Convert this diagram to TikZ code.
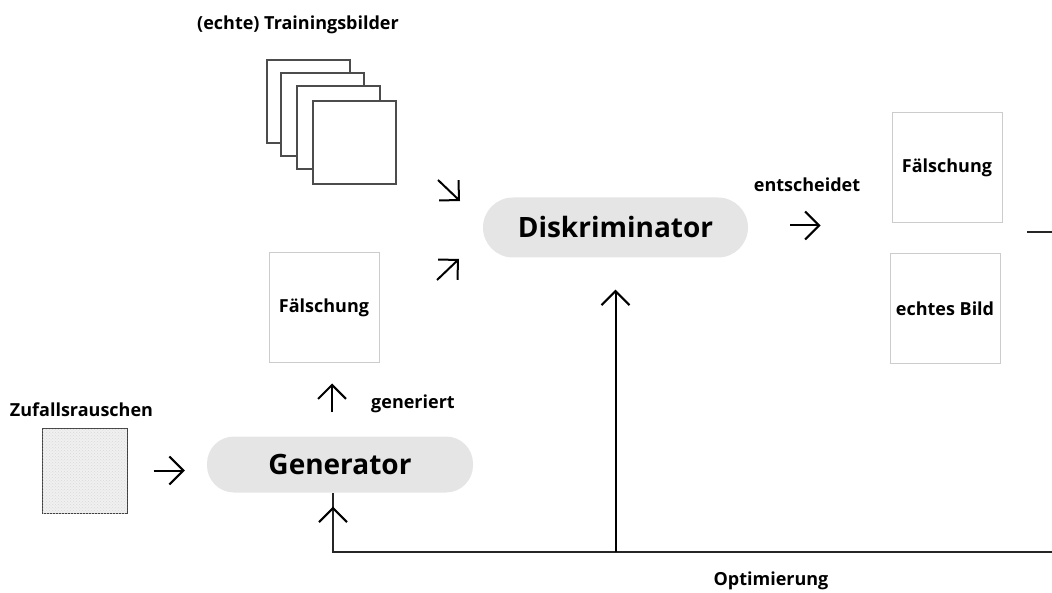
\documentclass[tikz,border=0pt]{standalone}
\usepackage{fontspec}
\setmainfont{Open Sans}
\usetikzlibrary{arrows.meta,positioning,patterns}

\begin{document}
\begin{tikzpicture}[
    x=1pt, y=1pt,
    font=\bfseries\fontsize{18}{21}\selectfont,
    pill/.style={fill=black!10, rounded corners=27pt, minimum width=266pt, minimum height=56pt, font=\bfseries\fontsize{28}{33}\selectfont},
    frame/.style={draw=black!20, line width=1pt, minimum size=110pt, inner sep=0pt},
    sheet/.style={draw=black!70, fill=white, line width=1.2pt, minimum size=83pt, inner sep=0pt},
    arr/.style={-{Straight Barb[length=14pt,width=28pt,line width=2pt]}, line width=2pt},
    loop/.style={line width=1.6pt, draw=black!85},
    lbl/.style={inner sep=1pt}
  ]
  \useasboundingbox (0,0) rectangle (1052,-593);
  % eingabe
  \node[draw=black!75, line width=1pt, minimum size=85pt, inner sep=0pt, fill=black!6,
        postaction={pattern=crosshatch dots, pattern color=black!15}] (noise) at (84.5,-470.5) {};
  \node[lbl, above=10pt of noise, xshift=-3pt] (noiselbl) {Zufallsrauschen};
  \node[pill] (gen) at (340,-464.5) {Generator};
  \node[frame] (fakeL) at (324,-308) {Fälschung};
  \node[lbl] (genlbl) at (413,-404) {generiert};
  % trainingsbilder
  \foreach \i/\x/\y in {1/308.5/101.5, 2/322.5/114.5, 3/338.5/127.5, 4/354.5/142.5}
    \node[sheet] (img\i) at (\x,-\y) {};
  \node[lbl] (titel) at (298,-25) {(echte) Trainingsbilder};
  % diskriminator
  \node[pill, minimum width=265pt, minimum height=60pt, rounded corners=30pt] (disk) at (615.5,-227.5) {Diskriminator};
  \node[lbl] (declbl) at (807,-185) {entscheidet};
  \node[frame] (fakeR) at (947,-168) {Fälschung};
  \node[frame] (realR) at (945,-308.5) {echtes Bild};
  \node[lbl] (optlbl) at (771,-581) {Optimierung};
  \coordinate (inA) at (438,-180);
  \coordinate (inB) at (437,-280);
  \coordinate (loopTop) at (1052,-232);
  \coordinate (loopBot) at (1052,-552);
  % pfeile
  \draw[arr, shorten <=26pt, shorten >=22pt] (noise.east) -- (gen.west |- noise.east);
  \draw[arr, shorten <=24pt, shorten >=20pt] ([xshift=-8pt]gen.north) -- ([xshift=8pt]fakeL.south);
  \draw[arr] (inA) -- ++(22,-21);
  \draw[arr] (inB) -- ++(22,21);
  \draw[arr, shorten <=42pt, shorten >=71pt] ([yshift=2pt]disk.east) -- ([yshift=2pt]disk.east -| fakeR.west);
  \draw[loop] (loopTop) -- ++(-25,0);
  \draw[loop] (loopBot) -| ([xshift=-7pt]gen.south);
  \draw[arr, shorten >=14pt] ([xshift=-7pt,yshift=-14pt]gen.south) -- ([xshift=-7pt]gen.south);
  \draw[arr, shorten >=32pt] (disk |- loopBot) -- (disk.south);
\end{tikzpicture}
\end{document}
